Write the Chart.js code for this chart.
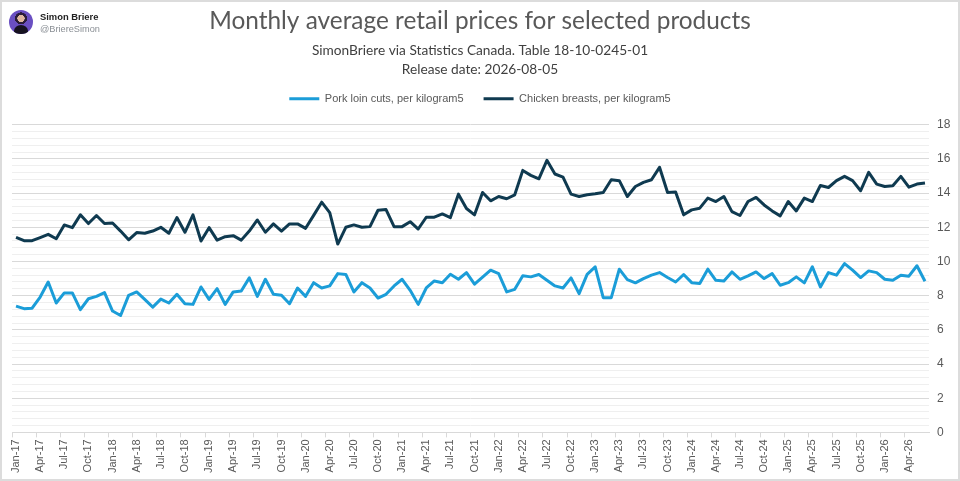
<!DOCTYPE html>
<html>
<head>
<meta charset="utf-8">
<script src="https://cdn.jsdelivr.net/npm/chart.js@4.4.1/dist/chart.umd.min.js"></script>
<style>
  html, body { margin:0; padding:0; background:#fff; }
  #wrap { position:relative; width:960px; height:481px; overflow:hidden; }
  #frame { position:absolute; left:0; top:0; width:960px; height:481px; box-sizing:border-box; border:2px solid #dcdcdc; pointer-events:none; }
  #avatar { position:absolute; left:9px; top:10px; width:24px; height:24px; border-radius:50%; background:radial-gradient(circle at 50% 35%, #e0b8a0 0 18%, #2b1d3a 19% 30%, #6a4fc2 31%); overflow:hidden; }
  #avatar::after { content:""; position:absolute; left:5px; top:15px; width:14px; height:12px; border-radius:50% 50% 0 0; background:#161220; }
  #name { position:absolute; left:40px; top:11px; font:bold 9.4px "Liberation Sans", Arial, sans-serif; color:#222; }
  #handle { position:absolute; left:40px; top:24px; font:9.2px "Liberation Sans", Arial, sans-serif; color:#8a8f95; }
</style>
</head>
<body>
<div id="wrap">
  <canvas id="c" width="960" height="481"></canvas>
  <div id="avatar"></div>
  <div id="name">Simon Briere</div>
  <div id="handle">@BriereSimon</div>
  <div id="frame"></div>
</div>
<script>
const MONTHS = ["Jan","Feb","Mar","Apr","May","Jun","Jul","Aug","Sep","Oct","Nov","Dec"];
const START_YEAR = 2017;
const N_MONTHS = 114;
const categories = [];
for (let i = 0; i < N_MONTHS; i++) {
  const y = START_YEAR + Math.floor(i / 12);
  categories.push(MONTHS[i % 12] + "-" + String(y % 100).padStart(2, "0"));
}

const porkLoin = [
  7.39,7.24,7.27,7.92,8.80,7.57,8.16,8.16,7.18,7.82,7.96,8.18,
  7.10,6.84,8.02,8.22,7.78,7.33,7.80,7.57,8.08,7.53,7.49,8.51,
  7.78,8.41,7.49,8.22,8.27,9.04,7.96,8.96,8.08,8.02,7.53,8.45,
  7.96,8.76,8.45,8.57,9.29,9.24,8.22,8.76,8.45,7.86,8.08,8.57,
  8.96,8.31,7.49,8.45,8.86,8.76,9.25,8.96,9.35,8.67,9.08,9.49,
  9.29,8.22,8.37,9.16,9.10,9.24,8.90,8.57,8.45,9.04,8.12,9.25,
  9.69,7.88,7.88,9.55,8.94,8.75,9.00,9.20,9.35,9.06,8.80,9.24,
  8.76,8.71,9.55,8.90,8.86,9.39,8.96,9.16,9.39,9.00,9.29,8.61,
  8.76,9.10,8.75,9.69,8.51,9.35,9.20,9.88,9.49,9.06,9.45,9.35,
  8.96,8.90,9.20,9.14,9.75,8.84
];
const chickenBreasts = [
  11.41,11.22,11.22,11.40,11.59,11.33,12.14,11.98,12.73,12.22,12.69,12.22,
  12.25,11.78,11.27,11.69,11.65,11.78,12.00,11.65,12.57,11.71,12.73,11.20,
  11.98,11.25,11.45,11.51,11.25,11.78,12.43,11.71,12.20,11.78,12.20,12.20,
  11.94,12.70,13.47,12.86,11.02,12.00,12.14,12.00,12.04,13.00,13.04,12.04,
  12.04,12.33,11.90,12.59,12.59,12.78,12.57,13.94,13.10,12.73,14.04,13.55,
  13.80,13.67,13.90,15.33,15.04,14.84,15.92,15.12,14.94,13.94,13.80,13.90,
  13.96,14.04,14.78,14.73,13.80,14.39,14.63,14.78,15.51,14.04,14.06,12.73,
  13.02,13.12,13.71,13.51,13.80,12.92,12.69,13.51,13.75,13.31,12.96,12.67,
  13.51,12.96,13.71,13.51,14.45,14.33,14.73,14.98,14.73,14.14,15.22,14.53,
  14.39,14.43,14.98,14.35,14.53,14.59
];
const seriesNames = ["Pork loin cuts, per kilogram5", "Chicken breasts, per kilogram5"];
const seriesColors = ["#1b9dd8", "#0f3a50"];
const titleText = "Monthly average retail prices for selected products";
const subtitleLines = ["SimonBriere via Statistics Canada. Table 18-10-0245-01", "Release date: 2026-08-05"];
const yMin = 0, yMax = 18, yMinorStep = 0.4, yLabelStep = 2;

const isMultiple = (v, s) => Math.abs(v / s - Math.round(v / s)) < 1e-6;

new Chart(document.getElementById("c"), {
  type: "line",
  data: {
    labels: categories,
    datasets: [
      { label: seriesNames[0], data: porkLoin, borderColor: seriesColors[0], backgroundColor: seriesColors[0],
        borderWidth: 3, pointRadius: 0, tension: 0, borderJoinStyle: "round", xAxisID: "x", yAxisID: "y" },
      { label: seriesNames[1], data: chickenBreasts, borderColor: seriesColors[1], backgroundColor: seriesColors[1],
        borderWidth: 3, pointRadius: 0, tension: 0, borderJoinStyle: "round", xAxisID: "x", yAxisID: "y" }
    ]
  },
  options: {
    responsive: false,
    animation: false,
    layout: { padding: { left: 6.5, right: 6.5, top: 4, bottom: 6 } },
    plugins: {
      title: { display: true, text: titleText, color: "#595959",
        font: { family: "Lato", size: 24.4, weight: "normal", lineHeight: 1.2 }, padding: { top: 3, bottom: 5 } },
      subtitle: { display: true, text: subtitleLines, color: "#404040",
        font: { family: "Lato", size: 13.7, weight: "normal", lineHeight: 19 / 13.7 }, padding: { top: 0, bottom: -6 } },
      legend: { display: true, position: "top",
        labels: { color: "#595959", font: { family: "Liberation Sans", size: 11 },
          usePointStyle: true, pointStyle: "line", pointStyleWidth: 30, padding: 20 } },
      tooltip: { enabled: false }
    },
    scales: {
      x: {
        offset: true,
        grid: { offset: true, drawOnChartArea: false, drawTicks: true, tickLength: 5,
          color: (ctx) => (ctx.index % 3 === 0 ? "#d9d9d9" : "rgba(0,0,0,0)") },
        border: { display: true, color: "#d9d9d9" },
        ticks: { autoSkip: false, minRotation: 90, maxRotation: 90, color: "#595959",
          font: { family: "Liberation Sans", size: 11 }, padding: 2,
          callback: function(v, i) { return i % 3 === 0 ? this.getLabelForValue(v) : ""; } }
      },
      spacer: {
        type: "category", position: "top", display: true,
        grid: { display: false }, border: { display: false }, ticks: { display: false },
        afterFit: (scale) => { scale.height = 10.5; }
      },
      leftSpacer: {
        type: "linear", position: "left", display: true,
        grid: { display: false }, border: { display: false }, ticks: { display: false },
        afterFit: (scale) => { scale.width = 5.5; }
      },
      y: {
        position: "right", min: yMin, max: yMax,
        grid: { drawTicks: false,
          color: (ctx) => (isMultiple(ctx.tick.value, yLabelStep) ? "#d9d9d9" : "#efefef") },
        border: { display: false },
        afterFit: (scale) => { scale.width = 24.5; },
        ticks: { stepSize: yMinorStep, autoSkip: false, color: "#595959", padding: 8,
          font: { family: "Liberation Sans", size: 12 },
          callback: (v) => (isMultiple(v, yLabelStep) ? String(Math.round(v)) : "") }
      }
    }
  }
});
</script>
</body>
</html>
